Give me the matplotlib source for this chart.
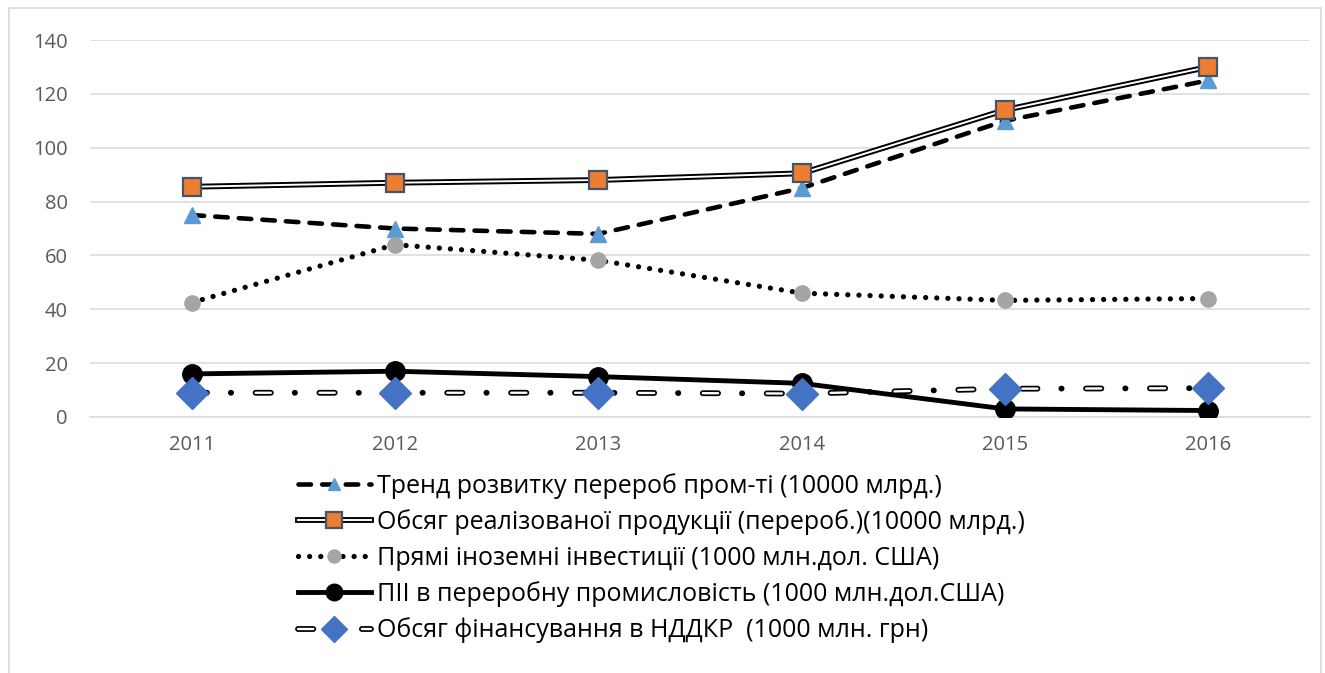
import numpy as np
import matplotlib
matplotlib.use("Agg")
import matplotlib.pyplot as plt
from matplotlib.patches import Rectangle

plt.rcParams['font.family'] = ['Open Sans', 'DejaVu Sans']
plt.rcParams['lines.scale_dashes'] = False

years = ['2011', '2012', '2013', '2014', '2015', '2016']

trend = [75, 70, 68, 85, 110, 125]
obsyag = [85.5, 87, 88, 90.5, 114, 130]
pryami = [42.5, 64, 58.2, 46, 43.3, 44]
pii = [16, 17, 15, 12.5, 3, 2.4]
nddkr = [9, 9, 9, 8.7, 10.5, 10.7]

labels = ['Тренд розвитку перероб пром-ті (10000 млрд.)',
          'Обсяг реалізованої продукції (перероб.)(10000 млрд.)',
          'Прямі іноземні інвестиції (1000 млн.дол. США)',
          'ПІІ в переробну промисловість (1000 млн.дол.США)',
          'Обсяг фінансування в НДДКР  (1000 млн. грн)']

W, H = 1325, 673
fig = plt.figure(figsize=(W / 100, H / 100), dpi=100)
fig.patches.append(Rectangle((9 / W, -0.01), 1312 / W, 1.01 - 8 / H, transform=fig.transFigure,
                             fill=False, edgecolor='#D9D9D9', linewidth=1.2))
ax = fig.add_axes([90 / W, 1 - 417 / H, 1220 / W, 377 / H])
x = np.arange(len(years))

# trend: thick dashed + blue triangles
h1l, = ax.plot(x, trend, color='black', lw=3.3, linestyle=(0, (9, 8)),
               dash_capstyle='round', zorder=3)
h1m, = ax.plot(x, trend, linestyle='none', marker='^', ms=11, color='#5B9BD5',
               mec='#5B9BD5', zorder=3.1)

# obsyag: double line + orange squares
h2a, = ax.plot(x, obsyag, color='black', lw=4.2, zorder=3.2)
h2b, = ax.plot(x, obsyag, color='white', lw=1.4, zorder=3.3)
h2m, = ax.plot(x, obsyag, linestyle='none', marker='s', ms=13, color='#ED7D31',
               mec='#44546A', mew=1.6, zorder=3.4)

# pryami: dotted + gray circles
h3l, = ax.plot(x, pryami, color='black', lw=3.8, linestyle=(0, (0.01, 8)),
               dash_capstyle='round', zorder=3.5)
h3m, = ax.plot(x, pryami, linestyle='none', marker='o', ms=11, color='#A5A5A5',
               mec='#A5A5A5', zorder=3.6)

# pii: solid + black circles
h4l, = ax.plot(x, pii, color='black', lw=3.5, zorder=3.7)
h4m, = ax.plot(x, pii, linestyle='none', marker='o', ms=14, color='black', zorder=3.8)

# nddkr: hollow dash / dot + blue diamonds
h5a, = ax.plot(x, nddkr, color='black', lw=4.2, linestyle=(0, (11, 17.2, 0.2, 17.6)),
               dash_capstyle='round', zorder=3.9)
h5b, = ax.plot(x, nddkr, color='white', lw=1.7, linestyle=(0, (11, 35)),
               dash_capstyle='round', zorder=4.0)
h5m, = ax.plot(x, nddkr, linestyle='none', marker='D', ms=16, color='#4472C4',
               mec='#4472C4', zorder=4.1)

ax.set_xlim(-0.5, len(years) - 0.5)
ax.set_ylim(0, 140)
ax.set_yticks(np.arange(0, 141, 20))
ax.set_xticks(x)
ax.set_xticklabels(years)
ax.grid(axis='y', color='#D9D9D9', lw=1.1)
ax.set_axisbelow(True)
for s in ['top', 'right', 'left']:
    ax.spines[s].set_visible(False)
ax.spines['bottom'].set_color('#D9D9D9')
ax.spines['bottom'].set_linewidth(1.1)
ax.tick_params(length=0, labelsize=14.5, colors='#595959', pad=16)
ax.tick_params(axis='x', pad=13)

handles = [(h1l, h1m), (h2a, h2b, h2m), (h3l, h3m), (h4l, h4m), (h5a, h5b, h5m)]
fig.legend(handles, labels, loc='upper left', bbox_to_anchor=(298 / W, 1 - 473 / H),
           frameon=False, fontsize=18, handlelength=2.9, handletextpad=0.25,
           labelspacing=0.42, borderpad=0, borderaxespad=0, markerscale=0.85)

fig.savefig('out.png', dpi=100)
